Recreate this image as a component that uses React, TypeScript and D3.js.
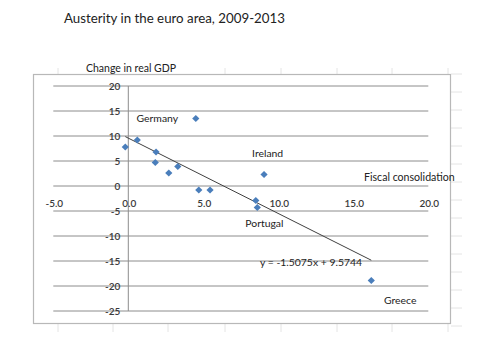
import React from "react";
import * as d3 from "d3";

const countries = ["", "", "Germany", "", "", "", "", "", "", "Ireland", "", "Portugal", "Greece"];
const fiscal = [-0.2, 0.6, 4.5, 1.85, 1.8, 2.7, 3.3, 4.7, 5.45, 9.05, 8.5, 8.6, 16.2];
const gdp = [7.8, 9.2, 13.5, 6.8, 4.7, 2.6, 3.9, -0.8, -0.8, 2.3, -2.9, -4.3, -18.9];
const xTicks = [-5, 0, 5, 10, 15, 20];
const yTicks = [20, 15, 10, 5, 0, -5, -10, -15, -20, -25];
const slope = -1.5075;
const intercept = 9.5744;

const pointLabels = [
  { text: "Germany", x: 0.55, y: 12.8 },
  { text: "Ireland", x: 8.25, y: 5.9 },
  { text: "Portugal", x: 7.8, y: -8.1 },
  { text: "Greece", x: 17.05, y: -23.5 },
];

const font = "Lato, 'Liberation Sans', sans-serif";

export default function App() {
  const x = d3.scaleLinear().domain([-5, 20]).range([53.3, 428.3]);
  const y = d3.scaleLinear().domain([-25, 20]).range([311, 86]);
  const diamond = d3.symbol().type(d3.symbolSquare).size(26)();
  const xs = d3.extent(fiscal) as [number, number];
  const trend = d3.line<number>().x((v) => x(v)).y((v) => y(slope * v + intercept))(xs);

  const cellXs = [58, 113, 168, 225, 281, 337, 392, 448];
  const cellYs = [74, 92, 110, 128, 146, 164, 182, 200, 218, 236, 254, 272, 290, 308, 326];

  return (
    <svg width={480} height={339} style={{ position: "absolute", left: 0, top: 0, background: "#fff" }}>
      <rect width={480} height={339} fill="#fff" />
      {cellXs.map((cx) => (
        <g key={"cx" + cx} stroke="#e4e4e4" strokeWidth={1}>
          <line x1={cx} x2={cx} y1={68} y2={74} />
          <line x1={cx} x2={cx} y1={324} y2={332} />
        </g>
      ))}
      {cellYs.map((cy) => (
        <line key={"cy" + cy} x1={451} x2={462} y1={cy} y2={cy} stroke="#e4e4e4" strokeWidth={1} />
      ))}
      <text x={64} y={22.5} fontFamily={font} fontSize={13.3} fill="#222">
        Austerity in the euro area, 2009-2013
      </text>
      <rect x={33.5} y={74.5} width={417} height={249} fill="#fff" stroke="#b8b8b8" strokeWidth={1.2} />
      <text x={131} y={72} textAnchor="middle" fontFamily={font} fontSize={10.5} fill="#222">
        Change in real GDP
      </text>
      {yTicks.map((t) => (
        <line key={"g" + t} x1={x(-5)} x2={x(20)} y1={y(t)} y2={y(t)} stroke="#8c8c8c" strokeWidth={1} />
      ))}
      <line x1={x(0)} x2={x(0)} y1={y(20)} y2={y(-25)} stroke="#8c8c8c" strokeWidth={1} />
      {yTicks.map((t) => (
        <text key={"yl" + t} x={x(0) - 8} y={y(t) + 3.6} textAnchor="end" fontFamily={font} fontSize={10} fontWeight={600} fill="#3a3a3a">
          {t}
        </text>
      ))}
      {xTicks.map((t) => (
        <text key={"xl" + t} x={x(t) + 1} y={y(0) + 20.5} textAnchor="middle" fontFamily={font} fontSize={10} fontWeight={600} fill="#3a3a3a">
          {t.toFixed(1)}
        </text>
      ))}
      <text x={364} y={180.5} fontFamily={font} fontSize={10.6} fill="#222">
        Fiscal consolidation
      </text>
      <path d={trend ?? ""} fill="none" stroke="#404040" strokeWidth={1} />
      {fiscal.map((fv, i) => (
        <path key={"p" + i} d={diamond ?? ""} transform={`translate(${x(fv)},${y(gdp[i])}) rotate(45)`} fill="#4a7ebb" />
      ))}
      {pointLabels.map((l) => (
        <text key={l.text} x={x(l.x)} y={y(l.y)} fontFamily={font} fontSize={10.4} fill="#222">
          {l.text}
        </text>
      ))}
      <text x={260} y={265.5} fontFamily={font} fontSize={10.4} fill="#222">
        {`y = ${slope}x + ${intercept}`}
      </text>
    </svg>
  );
}
